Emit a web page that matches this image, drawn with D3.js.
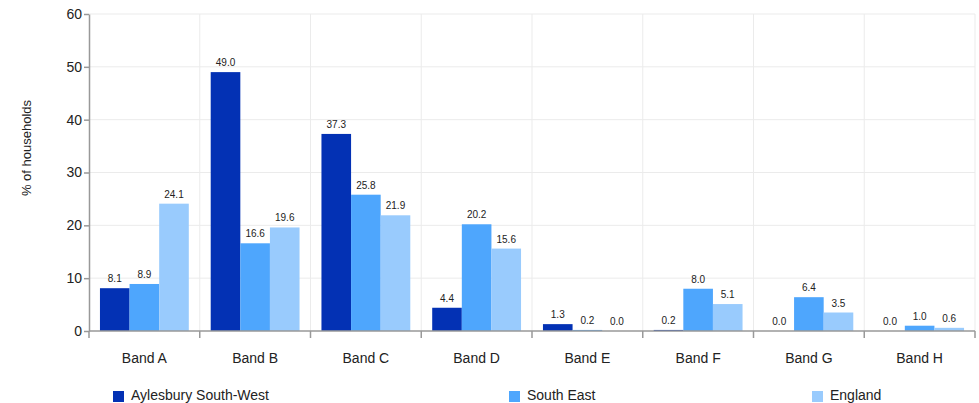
<!DOCTYPE html>
<html>
<head>
<meta charset="utf-8">
<style>
    body { margin: 0; background: #fff; font-family: 'Liberation Sans', Arial, sans-serif; }
    .grid line { stroke: #ebebeb; }
    .axis path, .axis line { stroke: #999; stroke-width: 1.5px; }
    .axis text { fill: #222; }
</style>
</head>
<body>
<svg width="979" height="403"></svg>
<script src="https://d3js.org/d3.v7.min.js"></script>
<script>
    var bands = ["Band A", "Band B", "Band C", "Band D", "Band E", "Band F", "Band G", "Band H"];
    var seriesNames = ["Aylesbury South-West", "South East", "England"];
    var aylesbury = [8.1, 49.0, 37.3, 4.4, 1.3, 0.2, 0.0, 0.0];
    var southEast = [8.9, 16.6, 25.8, 20.2, 0.2, 8.0, 6.4, 1.0];
    var england = [24.1, 19.6, 21.9, 15.6, 0.0, 5.1, 3.5, 0.6];
    var yTicks = [0, 10, 20, 30, 40, 50, 60];
    var colors = ["#0331b4", "#4ea6fd", "#99cbfd"];

    var svg = d3.select("svg"),
        margin = {top: 14, right: 4, bottom: 72, left: 89},
        width = +svg.attr("width") - margin.left - margin.right,
        height = +svg.attr("height") - margin.top - margin.bottom,
        g = svg.append("g").attr("transform", "translate(" + margin.left + "," + margin.top + ")");

    var allSeries = [aylesbury, southEast, england];

    var x = d3.scaleBand().domain(bands).range([0, width]);
    var x1 = d3.scaleBand().domain(seriesNames)
        .range([0, x.bandwidth()]).paddingOuter(0.37).paddingInner(0);
    var y = d3.scaleLinear().domain([0, 60]).range([height, 0]);

    // grid
    var grid = g.append("g").attr("class", "grid");
    grid.selectAll(".h").data(yTicks.slice(1)).enter().append("line")
        .attr("x1", 0).attr("x2", width)
        .attr("y1", function(d) { return y(d); }).attr("y2", function(d) { return y(d); });
    grid.selectAll(".v").data(bands.slice(1).concat(["end"])).enter().append("line")
        .attr("x1", function(d, i) { return x.step() * (i + 1); })
        .attr("x2", function(d, i) { return x.step() * (i + 1); })
        .attr("y1", 0).attr("y2", height);

    // bars
    var rows = bands.map(function(b, i) {
        return seriesNames.map(function(s, j) { return {band: b, key: s, idx: j, value: allSeries[j][i]}; });
    });

    var groups = g.append("g").selectAll("g").data(rows).enter().append("g")
        .attr("transform", function(d) { return "translate(" + x(d[0].band) + ",0)"; });

    groups.selectAll("rect").data(function(d) { return d; }).enter().append("rect")
        .attr("x", function(d) { return x1(d.key); })
        .attr("width", x1.bandwidth())
        .attr("y", function(d) { return y(d.value); })
        .attr("height", function(d) { return height - y(d.value); })
        .attr("fill", function(d) { return colors[d.idx]; });

    groups.selectAll("text").data(function(d) { return d; }).enter().append("text")
        .attr("x", function(d) { return x1(d.key) + x1.bandwidth() / 2; })
        .attr("y", function(d) { return y(d.value) - 6; })
        .attr("text-anchor", "middle")
        .attr("font-size", "10px")
        .attr("fill", "#222")
        .text(function(d) { return d.value.toFixed(1); });

    // y axis
    g.append("g").attr("class", "axis")
        .call(d3.axisLeft(y).tickValues(yTicks).tickSize(5).tickPadding(2).tickSizeOuter(0))
        .selectAll("text").attr("font-size", "14px").attr("font-family", "'Liberation Sans', Arial, sans-serif");

    // x axis
    var xAxis = g.append("g").attr("class", "axis")
        .attr("transform", "translate(0," + height + ")");
    xAxis.append("line").attr("x1", 0).attr("x2", width).attr("stroke", "#999").attr("stroke-width", 1.5);
    xAxis.selectAll(".tk").data(d3.range(bands.length + 1)).enter().append("line")
        .attr("x1", function(d) { return x.step() * d; })
        .attr("x2", function(d) { return x.step() * d; })
        .attr("y1", 0).attr("y2", 7);
    xAxis.selectAll("text").data(bands).enter().append("text")
        .attr("x", function(d) { return x(d) + x.bandwidth() / 2; })
        .attr("y", 32)
        .attr("text-anchor", "middle")
        .attr("font-size", "14px")
        .text(function(d) { return d; });

    // y axis label
    svg.append("text")
        .attr("transform", "translate(31," + (margin.top + 134) + ") rotate(-90)")
        .attr("text-anchor", "middle")
        .attr("font-size", "13px")
        .attr("fill", "#222")
        .text("% of households");

    // legend
    var legendX = [113, 509, 812];
    var legend = svg.append("g").selectAll("g").data(seriesNames).enter().append("g")
        .attr("transform", function(d, i) { return "translate(" + legendX[i] + ",391)"; });
    legend.append("rect").attr("width", 11).attr("height", 11)
        .attr("fill", function(d, i) { return colors[i]; });
    legend.append("text").attr("x", 18).attr("y", 9)
        .attr("font-size", "14px").attr("fill", "#222")
        .text(function(d) { return d; });
</script>
</body>
</html>
